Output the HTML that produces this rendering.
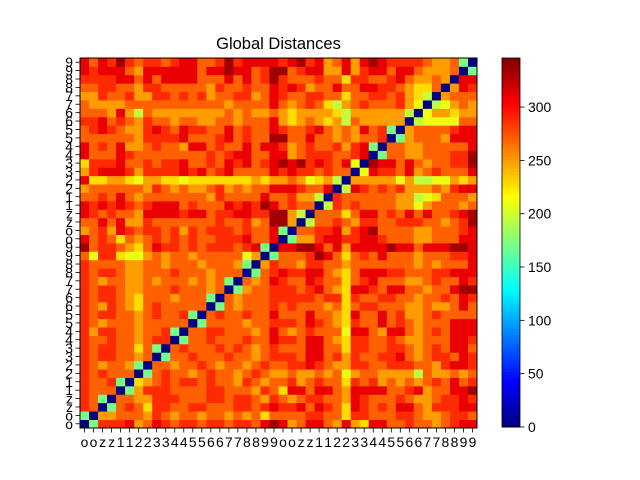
<!DOCTYPE html>
<html><head><meta charset="utf-8">
<style>
html,body{margin:0;padding:0;background:#fff;}
svg{display:block;font-family:"Liberation Sans","DejaVu Sans",sans-serif;}
</style></head>
<body>
<svg id="chart" width="640" height="480" viewBox="0 0 640 480">
<rect width="640" height="480" fill="#fff"/>
<text x="278.5" y="49" text-anchor="middle" font-size="16.5" fill="#000">Global Distances</text>
<g id="cells"></g>
<rect x="80" y="58" width="397" height="370" fill="none" stroke="#000" stroke-width="1"/>
<g id="xticks"></g>
<g id="yticks"></g>
<g id="cbar"></g>
</svg>
<script>
// tick labels (one per cell)
const baseLabels = ['o','o','z','z','1','1','2','2','3','3','4','4','5','5','6','6','7','7','8','8','9','9'];
const tickLabels = baseLabels.concat(baseLabels);
// colour-level codes -> distance values
const levelCodes = ['0','g','G','y','Y','a','o','r','R','d'];
const levelValues = [0,170,195,210,228,250,270,288,310,335];
// rows 0..21 (bottom half), all 44 columns
const rowsBottom = [
"0grrrRaoRrorrorrorroRd"+"RaoRRoaRaYRRoorooaorRR",
"g0aaoooaroaooaooaoaoYo"+"ooorrooYrrooorroaaorro",
"ro0goroYrroorrooorrorR"+"rrRoRroYRroroRRoarrrRR",
"rog0ooaarrrooorrorroar"+"oaorrooaRroooroaaorrRr",
"rooo0garrroooorroooaro"+"YRRoRRoaRRRRoorRaooRRd",
"roorg0Yaororrorooaroao"+"oraorooYroraoaoaoroRor",
"rorooo0gorooaorooaoroa"+"aoaaoaoyaooaaaaGoaaoao",
"roaooag0ooaooroaooaoro"+"orrRroaarroorrrooarRRr",
"rorrooao0goorooorooaor"+"rroRRoraroorrRoaorroRr",
"rorrooYog0orooororoaor"+"oooRRooYrroorroaoroRRo",
"roorooaorr0goorooorooR"+"rroRRoaYrrooroaaoooRRr",
"rarrooaoorg0oorroooaoR"+"oaoroooyRRoaRRoaoroRRR",
"roaoooaooooo0gooooaoor"+"rroRroaYrooRoroaoooRRR",
"rorrooaoroorg0oroorooR"+"oooRooaYRooRoraaoroooo",
"roaroaYorooooo0goaooor"+"oroooaoYorroooaaoaaoRo",
"rorroaYoooaooog0oaooor"+"rrrrorrYroorrooaooroRr",
"rorroaaoooroooao0gaoor"+"rrorRoaYRRroRRooaooRdd",
"roaooaaoaoooaoaog0oaoR"+"rooRrooYorRoooaaorooRr",
"rorroaaoooroooaooo0gor"+"RrrRRoaYoRRRrrooorrRRR",
"rooooaaooaoooaoooag0ar"+"ooarrooaoooooooaoaoooR",
"oyrrYyyaoaooaoooooya0g"+"ooordRoYoroRoooaooorrR",
"dorroaYoRrrororrrorRg0"+"RRddRoRaRRRRdRRoRRRddR"
];
// rows 22..43, columns 22..43
const rowsTopRight = [
"0gaarRRrrRRroooaaoooRR",
"g0oorrRarRdooooaaooorR",
"da0Gooroarroorrrooaord",
"daG0oooYoRRoroRoRoorRd",
"oroo0Grorooooaayaoooao",
"oraaG0rooooooaaGyYoooa",
"RRrooR0GRrororaaaoarRR",
"aoayYaG0aaaaayaGGyyaYa",
"rRrroroo0yRrroRaoroooR",
"dRdrRroRy0dRRoRoaoorrd",
"RaorrroorR0gooaaooorrd",
"raoroorarRg0ooaaoooooR",
"dooRooaoaoor0gaoooaRRR",
"roorRoaoaRorg0aoooorRR",
"aYaoaYaGoaaaaa0Gyyyyoo",
"aYaaaaYGaaaaaaG0yaaYaa",
"oaoroYGaoroooray0Gyaoa",
"roorrooYoorroraYG0aooo",
"rRraooRooRRrroaYYo0aRr",
"rooorooYrroorRoaaoa0RR",
"dorRRaaRarRRoRRoaaao0g",
"rRdrRaoRaRdRrrrroaaog0"
];
const N = 44, VMAX = 346;
const X0 = 80, Y0 = 58, W = 397, H = 370;
const cw = W / N, ch = H / N;
function codeVal(c){ const i = levelCodes.indexOf(c); return levelValues[i < 0 ? 6 : i]; }
function val(r, c){
  if (r < 22) return codeVal(rowsBottom[r][c]);
  if (c >= 22) return codeVal(rowsTopRight[r-22][c-22]);
  return codeVal(rowsBottom[c][r]);
}
function clip(v){ return Math.max(0, Math.min(1, v)); }
function jet(t){
  const r = clip(1.5 - Math.abs(4*t - 3)), g = clip(1.5 - Math.abs(4*t - 2)), b = clip(1.5 - Math.abs(4*t - 1));
  return 'rgb(' + Math.round(r*255) + ',' + Math.round(g*255) + ',' + Math.round(b*255) + ')';
}
const xPos = c => X0 + c * cw;
const yPos = r => Y0 + H - (r + 1) * ch;
const NS = 'http://www.w3.org/2000/svg';
const cells = document.getElementById('cells');
for (let r = 0; r < N; r++) {
  for (let c = 0; c < N; c++) {
    const el = document.createElementNS(NS, 'rect');
    el.setAttribute('x', xPos(c).toFixed(2));
    el.setAttribute('y', yPos(r).toFixed(2));
    el.setAttribute('width', (cw + 0.4).toFixed(2));
    el.setAttribute('height', (ch + 0.4).toFixed(2));
    el.setAttribute('fill', jet(val(r, c) / VMAX));
    
    
    cells.appendChild(el);
  }
}
const xt = document.getElementById('xticks');
const yt = document.getElementById('yticks');
for (let i = 0; i < N; i++) {
  const cx = X0 + (i + 0.5) * cw;
  const t = document.createElementNS(NS, 'line');
  t.setAttribute('x1', cx); t.setAttribute('x2', cx);
  t.setAttribute('y1', Y0 + H); t.setAttribute('y2', Y0 + H + 4.5);
  t.setAttribute('stroke', '#000'); t.setAttribute('stroke-width', '0.8');
  
  
  xt.appendChild(t);
  const lb = document.createElementNS(NS, 'text');
  lb.setAttribute('x', cx); lb.setAttribute('y', Y0 + H + 19);
  lb.setAttribute('text-anchor', 'middle'); lb.setAttribute('font-size', '13.9');
  lb.textContent = tickLabels[i];
  
  
  xt.appendChild(lb);
  const cy = Y0 + H - (i + 0.5) * ch;
  const ty = document.createElementNS(NS, 'line');
  ty.setAttribute('x1', X0 - 4.5); ty.setAttribute('x2', X0);
  ty.setAttribute('y1', cy); ty.setAttribute('y2', cy);
  ty.setAttribute('stroke', '#000'); ty.setAttribute('stroke-width', '0.8');
  
  
  yt.appendChild(ty);
  const ly = document.createElementNS(NS, 'text');
  ly.setAttribute('x', X0 - 7); ly.setAttribute('y', cy + 5);
  ly.setAttribute('text-anchor', 'end'); ly.setAttribute('font-size', '13.9');
  ly.textContent = tickLabels[i];
  
  
  yt.appendChild(ly);
}
// colorbar
const cbTicks = [0,50,100,150,200,250,300];
const CBX = 502, CBW = 18, CBTOP = 58, CBBOT = 427;
const cb = document.getElementById('cbar');
const steps = 120;
for (let s = 0; s < steps; s++) {
  const v0 = s / steps;
  const el = document.createElementNS(NS, 'rect');
  el.setAttribute('x', CBX);
  el.setAttribute('y', (CBBOT - (s + 1) / steps * (CBBOT - CBTOP)).toFixed(2));
  el.setAttribute('width', CBW);
  el.setAttribute('height', ((CBBOT - CBTOP) / steps + 0.5).toFixed(2));
  el.setAttribute('fill', jet(v0 + 0.5 / steps));
  
  
  cb.appendChild(el);
}
const frame = document.createElementNS(NS, 'rect');
frame.setAttribute('x', CBX); frame.setAttribute('y', CBTOP);
frame.setAttribute('width', CBW); frame.setAttribute('height', CBBOT - CBTOP);
frame.setAttribute('fill', 'none'); frame.setAttribute('stroke', '#000'); frame.setAttribute('stroke-width', '0.8');


cb.appendChild(frame);
cbTicks.forEach(v => {
  const y = CBBOT - v / VMAX * (CBBOT - CBTOP);
  const t = document.createElementNS(NS, 'line');
  t.setAttribute('x1', CBX + CBW); t.setAttribute('x2', CBX + CBW + 4.5);
  t.setAttribute('y1', y); t.setAttribute('y2', y);
  t.setAttribute('stroke', '#000'); t.setAttribute('stroke-width', '0.8');
  
  
  cb.appendChild(t);
  const lb = document.createElementNS(NS, 'text');
  lb.setAttribute('x', CBX + CBW + 8); lb.setAttribute('y', y + 5);
  lb.setAttribute('font-size', '13.9');
  lb.textContent = String(v);
  
  
  cb.appendChild(lb);
});
</script>
</body></html>
